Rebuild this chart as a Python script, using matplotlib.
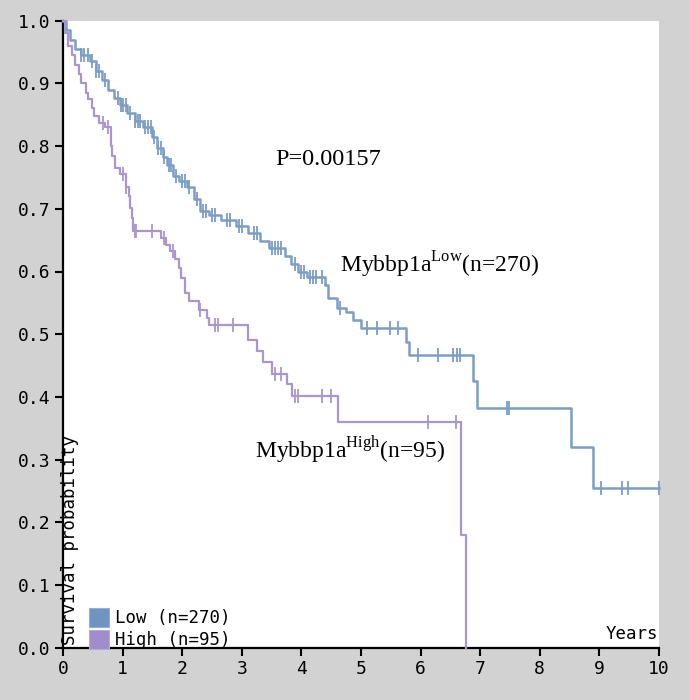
import numpy as np
import matplotlib
matplotlib.use("Agg")
import matplotlib.pyplot as plt
from matplotlib.patches import Patch

plt.rcParams['mathtext.fontset'] = 'custom'
plt.rcParams['mathtext.rm'] = 'Liberation Serif'

# ---- data ----
low_times = [0.0, 0.05, 0.12, 0.2, 0.3, 0.45, 0.55, 0.65, 0.75, 0.85, 0.95, 1.08, 1.2, 1.35,
             1.5, 1.58, 1.68, 1.75, 1.85, 1.95, 2.08, 2.2, 2.3, 2.45, 2.65, 2.9, 3.1, 3.3,
             3.45, 3.72, 3.82, 3.95, 4.1, 4.4, 4.45, 4.6, 4.75, 4.87, 5.0, 5.75, 5.8, 6.88,
             6.95, 8.52, 8.89, 10.0]
low_surv = [1.0, 0.985, 0.97, 0.955, 0.945, 0.935, 0.92, 0.905, 0.89, 0.877, 0.865, 0.852,
            0.84, 0.83, 0.815, 0.797, 0.782, 0.77, 0.752, 0.745, 0.734, 0.715, 0.697, 0.69,
            0.682, 0.672, 0.662, 0.648, 0.638, 0.625, 0.612, 0.6, 0.592, 0.578, 0.558, 0.542,
            0.535, 0.522, 0.51, 0.488, 0.467, 0.425, 0.383, 0.32, 0.255, 0.255]
low_censor = [0.3, 0.35, 0.42, 0.48, 0.55, 0.6, 0.7, 0.92, 0.98, 1.0, 1.05, 1.12, 1.2, 1.25,
              1.3, 1.38, 1.42, 1.48, 1.52, 1.6, 1.65, 1.7, 1.78, 1.82, 1.9, 2.0, 2.05, 2.12,
              2.25, 2.35, 2.4, 2.5, 2.55, 2.75, 2.8, 2.95, 3.0, 3.2, 3.25, 3.5, 3.55, 3.6,
              3.65, 3.9, 4.0, 4.05, 4.15, 4.2, 4.25, 4.35, 4.65, 5.1, 5.27, 5.49, 5.62, 5.96,
              6.29, 6.54, 6.61, 6.66, 7.45, 7.48, 9.03, 9.38, 9.48, 10.0]

high_times = [0.0, 0.03, 0.08, 0.15, 0.2, 0.27, 0.3, 0.38, 0.42, 0.48, 0.52, 0.6, 0.7, 0.8,
              0.83, 0.88, 0.95, 1.05, 1.1, 1.13, 1.16, 1.18, 1.65, 1.72, 1.8, 1.88, 1.95,
              1.98, 2.05, 2.12, 2.28, 2.42, 2.45, 3.1, 3.25, 3.35, 3.5, 3.75, 3.85, 4.62,
              6.68, 6.77]
high_surv = [1.0, 0.98, 0.96, 0.945, 0.93, 0.915, 0.9, 0.885, 0.875, 0.86, 0.848, 0.837,
             0.83, 0.8, 0.785, 0.765, 0.755, 0.734, 0.72, 0.702, 0.685, 0.665, 0.654, 0.643,
             0.632, 0.62, 0.606, 0.59, 0.565, 0.553, 0.538, 0.526, 0.514, 0.49, 0.474, 0.455,
             0.437, 0.421, 0.402, 0.36, 0.18, 0.0]
high_censor = [0.67, 0.75, 1.0, 1.05, 1.2, 1.22, 1.5, 1.7, 1.85, 2.3, 2.55, 2.6, 2.85, 3.55,
               3.65, 3.9, 3.95, 4.35, 4.5, 6.12, 6.6]

groups = ["Low", "High"]
group_n = [270, 95]
p_value = "P=0.00157"
x_ticks = list(range(0, 11))
y_ticks = [0.0, 0.1, 0.2, 0.3, 0.4, 0.5, 0.6, 0.7, 0.8, 0.9, 1.0]

# ---- style ----
BG = '#d2d2d2'
LOW_LINE = '#7b9dc8'
HIGH_LINE = '#a996cc'
LOW_PATCH = '#7193c0'
HIGH_PATCH = '#a08ecb'
MONO = 'DejaVu Sans Mono'
SERIF = 'Liberation Serif'

fig = plt.figure(figsize=(6.89, 7.00), dpi=100, facecolor=BG)
ax = fig.add_axes([63/689, 52.3/700, 596/689, 627/700])
ax.set_facecolor('white')


def surv_at(times, surv, t):
    idx = np.searchsorted(np.asarray(times), t, side='right') - 1
    return np.asarray(surv)[idx]


for times, surv, cens, col, lw in [(low_times, low_surv, low_censor, LOW_LINE, 1.8),
                                   (high_times, high_surv, high_censor, HIGH_LINE, 1.6)]:
    ax.step(times, surv, where='post', color=col, lw=lw, clip_on=False, zorder=3)
    cy = [surv_at(times, surv, c) for c in cens]
    ax.plot(cens, cy, ls='none', marker='|', ms=10, mew=1.3, color=col,
            clip_on=False, zorder=3)

ax.set_xlim(0, 10)
ax.set_ylim(0, 1)
ax.set_xticks(x_ticks)
ax.set_yticks(y_ticks)
ax.set_xticklabels([str(t) for t in x_ticks], fontfamily=MONO, fontsize=13)
ax.set_yticklabels([f"{v:.1f}" for v in y_ticks], fontfamily=MONO, fontsize=13)
ax.tick_params(direction='out', length=6, width=1.5, color='black', pad=3)
for s in ['top', 'right']:
    ax.spines[s].set_visible(False)
for s in ['left', 'bottom']:
    ax.spines[s].set_linewidth(1.6)
    ax.spines[s].set_color('black')

ax.text(0.12, 0.005, "Survival probability", rotation=90, fontfamily=MONO,
        fontsize=12.5, ha='center', va='bottom')
ax.text(9.98, 0.008, "Years", fontfamily=MONO, fontsize=12.5, ha='right', va='bottom')

ax.text(3.56, 0.778, p_value, fontfamily=SERIF, fontsize=17.5, ha='left', va='center')
ax.text(4.65, 0.61, r"Mybbp1a$^{\mathrm{Low}}$(n=270)", fontfamily=SERIF, fontsize=17,
        ha='left', va='center')
ax.text(3.22, 0.315, r"Mybbp1a$^{\mathrm{High}}$(n=95)", fontfamily=SERIF, fontsize=17,
        ha='left', va='center')

handles = [Patch(facecolor=LOW_PATCH, edgecolor='#8fb0d8', lw=0.8),
           Patch(facecolor=HIGH_PATCH, edgecolor='#b8a8dc', lw=0.8)]
labels = [f"{g} (n={n})" for g, n in zip(groups, group_n)]
ax.legend(handles, labels, loc='lower left', bbox_to_anchor=(0.04, -0.005),
          frameon=False, prop={'family': MONO, 'size': 12.5}, handlelength=1.2,
          handleheight=1.3, handletextpad=0.3, labelspacing=0.15, borderaxespad=0,
          borderpad=0.1)

fig.savefig("out.png", dpi=100, facecolor=BG)
